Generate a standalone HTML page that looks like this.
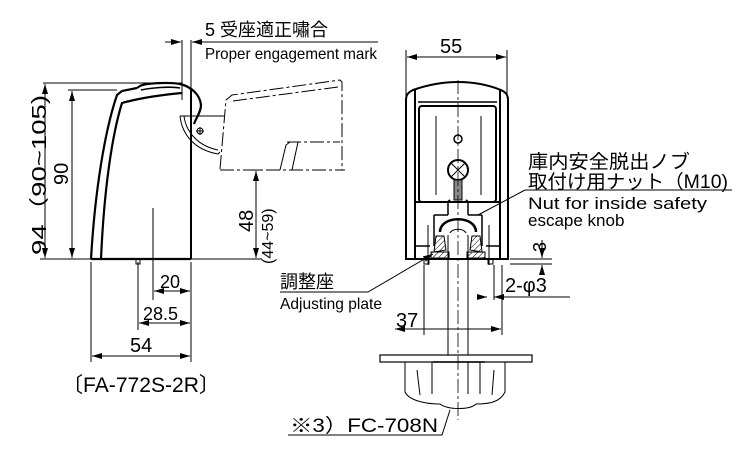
<!DOCTYPE html>
<html><head><meta charset="utf-8"><style>
html,body{margin:0;padding:0;background:#fff}
svg{display:block}
text{font-family:"Liberation Sans","Noto Sans CJK JP",sans-serif;fill:#000}
</style></head><body>
<svg width="750" height="450" viewBox="0 0 750 450" xmlns="http://www.w3.org/2000/svg">
<defs>
<marker id="a" viewBox="0 0 10 6" refX="10" refY="3" markerWidth="10" markerHeight="6" orient="auto-start-reverse" markerUnits="userSpaceOnUse"><path d="M0,0L10,3L0,6z" fill="#000"/></marker>
<pattern id="h" width="4" height="4" patternUnits="userSpaceOnUse" patternTransform="rotate(45)"><line x1="0" y1="0" x2="0" y2="4" stroke="#000" stroke-width="1"/></pattern>
</defs>
<g fill="none" stroke="#000" stroke-width="1">
<!-- LEFT VIEW -->
<path d="M91,259 C95,190 105,130 117,95 L122,91 L137,88 M101,259 C104,190 112,135 122,103 C140,98 160,95 182,93" stroke-width="2.2"/>
<path d="M137,88 L140,86 C145,83 170,82 180,84 C192,87 200,95 201,105 C201,112 196,118 194,124" stroke-width="2.2"/>
<path d="M141,90 C150,88 170,86 180,88" stroke-width="1.6"/>
<line x1="191" y1="88" x2="191" y2="259" stroke-width="2"/>
<line x1="91" y1="259" x2="191" y2="259" stroke-width="2.2"/>
<line x1="40" y1="259" x2="262" y2="259"/>
<line x1="43" y1="83" x2="182" y2="83"/>
<line x1="68" y1="90" x2="117" y2="90"/>
<line x1="45" y1="84" x2="45" y2="258" marker-start="url(#a)" marker-end="url(#a)"/>
<line x1="72" y1="91" x2="72" y2="258" marker-start="url(#a)" marker-end="url(#a)"/>
<line x1="153" y1="208" x2="153" y2="300"/>
<line x1="138" y1="262" x2="138" y2="330"/>
<rect x="136" y="259" width="4" height="5"/>
<line x1="91" y1="262" x2="91" y2="362"/>
<line x1="191" y1="262" x2="191" y2="362"/>
<line x1="154" y1="291" x2="190" y2="291" marker-start="url(#a)" marker-end="url(#a)"/>
<line x1="139" y1="323" x2="190" y2="323" marker-start="url(#a)" marker-end="url(#a)"/>
<line x1="92" y1="356" x2="190" y2="356" marker-start="url(#a)" marker-end="url(#a)"/>
<!-- engagement mark -->
<line x1="182" y1="40" x2="182" y2="100"/>
<line x1="191" y1="40" x2="191" y2="88"/>
<line x1="165" y1="42" x2="181" y2="42" marker-end="url(#a)"/>
<line x1="192" y1="42" x2="378" y2="42" marker-start="url(#a)"/>
<!-- hook -->
<path d="M180,116 C182,135 195,150 218,154 L220,152" stroke-width="1"/>
<path d="M184,116 C186,132 198,146 218,150"/>
<line x1="180" y1="116" x2="224" y2="116"/>
<circle cx="200" cy="131" r="3"/><line x1="196" y1="131" x2="204" y2="131"/><line x1="200" y1="127" x2="200" y2="135"/>
<!-- dashed door -->
<g stroke-dasharray="14,3,3,3">
<path d="M220,169 L226,100 L232,95 L340,80 L342,82 L342,170"/>
<path d="M233,101 L338,87"/>
<line x1="220" y1="170" x2="345" y2="170"/>
<line x1="287" y1="142" x2="340" y2="142"/>
</g>
<path d="M280,170 L286,145 L290,142 M292,170 L298,142"/>
<!-- 48 -->
<line x1="248" y1="170" x2="262" y2="170"/>
<line x1="256" y1="171" x2="256" y2="258" marker-start="url(#a)" marker-end="url(#a)"/>

<!-- RIGHT VIEW -->
<path d="M406,259 L406,100 C406,94 409,92 413,90 C430,84 445,82 458,82 C471,82 486,84 501,90 C505,92 508,94 508,100 L508,259 Z" stroke-width="2"/>
<line x1="415" y1="90" x2="415" y2="259" stroke-width="2"/>
<line x1="500" y1="90" x2="500" y2="259" stroke-width="2"/>
<line x1="418" y1="102" x2="497" y2="102" stroke-width="1.5"/>
<rect x="419" y="106" width="77" height="96" rx="3" stroke-width="2"/>
<line x1="436" y1="116" x2="436" y2="195"/>
<line x1="481" y1="116" x2="481" y2="195"/>
<circle cx="458" cy="139" r="4" stroke-width="1.5"/>
<circle cx="458" cy="170" r="10" stroke-width="2"/>
<line x1="451" y1="163" x2="465" y2="177"/><line x1="465" y1="163" x2="451" y2="177"/>
<rect x="454" y="180" width="8" height="20" fill="#888"/>
<path d="M415,202 L448,202 L450,200 M466,200 L468,202 L500,202" stroke-width="2"/>
<path d="M415,246 L430,246 M486,246 L500,246" stroke-width="1.5"/>
<path d="M448,202 L448,215 M468,202 L468,215 M434,215 L448,215 M468,215 L482,215 M434,215 L434,246 M482,215 L482,246" stroke-width="1.5"/>
<path d="M440,232 C440,215 476,215 476,232" stroke-width="2.5"/>
<line x1="428" y1="225" x2="428" y2="265"/>
<line x1="489" y1="225" x2="489" y2="265"/>
<path d="M436,236 L444,236 L446,250 L434,252 Z" fill="url(#h)"/>
<path d="M472,236 L480,236 L482,252 L470,250 Z" fill="url(#h)"/>
<rect x="431" y="252" width="18" height="6" fill="url(#h)"/>
<rect x="467" y="252" width="18" height="6" fill="url(#h)"/>
<rect x="424" y="259" width="5" height="5"/>
<rect x="488" y="259" width="5" height="5"/>
<!-- shaft -->
<path d="M448,235 L448,355 M468,235 L468,355 M450,233 C452,228 464,228 466,233"/>
<line x1="458" y1="80" x2="458" y2="420" stroke-dasharray="14,3,3,3" stroke-width="0.8"/>
<!-- plate & knob -->
<rect x="380" y="355" width="152" height="7" stroke-width="1.2"/>
<path d="M405,362 L405,392 C410,402 430,404 440,404 C448,410 470,410 476,404 C490,404 500,402 505,392 L505,362"/>
<path d="M432,362 L432,394 M468,362 L468,394 M480,362 L480,394 M417,370 L420,395 M494,370 L492,395"/>
<line x1="433" y1="362" x2="485" y2="362" stroke-width="1.5"/>
<!-- dims right -->
<line x1="406" y1="50" x2="406" y2="98"/>
<line x1="507" y1="50" x2="507" y2="98"/>
<line x1="407" y1="57" x2="506" y2="57" marker-start="url(#a)" marker-end="url(#a)"/>
<line x1="510" y1="264" x2="552" y2="264"/>
<line x1="510" y1="259" x2="552" y2="259"/>
<line x1="542" y1="240" x2="542" y2="258" marker-end="url(#a)"/>
<line x1="542" y1="275" x2="542" y2="265" marker-end="url(#a)"/>
<line x1="480" y1="297" x2="487" y2="297" marker-end="url(#a)"/>
<line x1="570" y1="297" x2="494" y2="297" marker-end="url(#a)"/>
<line x1="494" y1="265" x2="494" y2="300"/>
<line x1="424" y1="265" x2="424" y2="335"/>
<line x1="502" y1="265" x2="502" y2="335"/>
<line x1="395" y1="329" x2="501" y2="329" marker-start="url(#a)" marker-end="url(#a)"/>
<!-- leaders -->
<path d="M525,190 L732,190 M525,190 L478,215"/>
<path d="M280,292 L368,292 L433,254" marker-end="url(#a)"/>
<path d="M288,435 L442,435 L450,410"/>
</g>
<!-- TEXT -->
<text x="205" y="36" font-size="18">5 受座適正嘯合</text>
<text x="205" y="59" font-size="16" textLength="172" lengthAdjust="spacingAndGlyphs">Proper engagement mark</text>
<text transform="translate(46,255) rotate(-90)" font-size="20" textLength="160" lengthAdjust="spacingAndGlyphs">94（90~105)</text>
<text transform="translate(68,185) rotate(-90)" font-size="20">90</text>
<text transform="translate(253,232) rotate(-90)" font-size="20">48</text>
<text transform="translate(273,264) rotate(-90)" font-size="16">(44~59)</text>
<text x="160" y="288" font-size="18">20</text>
<text x="143" y="320" font-size="18">28.5</text>
<text x="130" y="352" font-size="20">54</text>
<text x="62" y="392" font-size="21" textLength="158" lengthAdjust="spacingAndGlyphs">〔FA-772S-2R〕</text>
<text x="440" y="53" font-size="20">55</text>
<text x="528" y="168" font-size="19" textLength="162" lengthAdjust="spacingAndGlyphs">庫内安全脱出ノブ</text>
<text x="528" y="188" font-size="19" textLength="200" lengthAdjust="spacingAndGlyphs">取付け用ナット（M10)</text>
<text x="528" y="209" font-size="17" textLength="179" lengthAdjust="spacingAndGlyphs">Nut for inside safety</text>
<text x="528" y="226" font-size="17">escape knob</text>
<text transform="translate(546,252) rotate(-90)" font-size="18">3</text>
<text x="505" y="292" font-size="20">2-φ3</text>
<text x="280" y="288" font-size="18">調整座</text>
<text x="280" y="309" font-size="16" textLength="102" lengthAdjust="spacingAndGlyphs">Adjusting plate</text>
<text x="396" y="327" font-size="20">37</text>
<text x="290" y="432" font-size="19" textLength="148" lengthAdjust="spacingAndGlyphs">※3）FC-708N</text>
</svg>
</body></html>
